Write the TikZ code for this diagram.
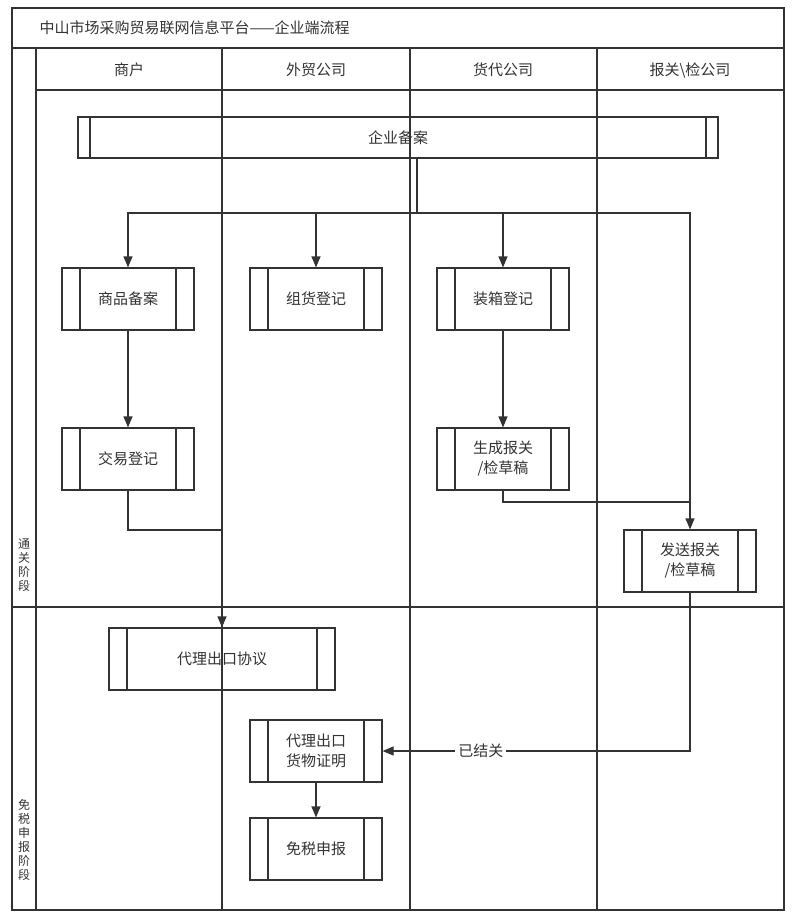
\documentclass[tikz,border=0pt]{standalone}
\usepackage{fontspec}
\setmainfont{Noto Sans CJK SC}
\usetikzlibrary{arrows.meta,calc}
\tikzset{
    proc/.style={draw, line width=1.2pt, minimum width=132pt, minimum height=62pt,
        align=center, font=\fontsize{15}{20}\selectfont, inner sep=0pt,
        path picture={
            \draw[line width=1.2pt] ([xshift=#1]path picture bounding box.north west) -- ([xshift=#1]path picture bounding box.south west);
            \draw[line width=1.2pt] ([xshift=-#1]path picture bounding box.north east) -- ([xshift=-#1]path picture bounding box.south east);
        }},
    proc/.default=18pt,
    flow/.style={line width=1.2pt, -{Triangle[length=11pt,width=9pt]}},
    lane/.style={line width=1.2pt},
}
\begin{document}
\begin{tikzpicture}[x=1pt,y=-1pt, color=black!80]
        \useasboundingbox[fill=white] (0,0) rectangle (800,919);

        % frame and lanes
        \draw[lane] (12,8) rectangle (784,910);
        \draw[lane] (12,48) -- (784,48);
        \draw[lane] (36,48) -- (36,910);
        \draw[lane] (36,90) -- (784,90);
        \draw[lane] (12,607) -- (784,607);
        \draw[lane] (222,48) -- (222,910);
        \draw[lane] (410,48) -- (410,910);
        \draw[lane] (597,48) -- (597,910);

        \node[anchor=west, font=\fontsize{15}{18}\selectfont] (title) at (36,28) {中山市场采购贸易联网信息平台——企业端流程};
        \node[font=\fontsize{15}{18}\selectfont] (h1) at (129,70) {商户};
        \node[font=\fontsize{15}{18}\selectfont] (h2) at (316,70) {外贸公司};
        \node[font=\fontsize{15}{18}\selectfont] (h3) at (503,70) {货代公司};
        \node[font=\fontsize{15}{18}\selectfont] (h4) at (690,70) {报关\textbackslash 检公司};

        \node[font=\fontsize{12}{14}\selectfont, align=center, inner sep=0pt] (ph1) at (24,565) {通\\关\\阶\\段};
        \node[font=\fontsize{12}{14}\selectfont, align=center, inner sep=0pt] (ph2) at (24,840) {免\\税\\申\\报\\阶\\段};

        % boxes
        \node[proc=12pt, minimum width=640pt, minimum height=41pt] (beian) at (398,137.5) {企业备案};
        \node[proc] (spba) at (128,299) {商品备案};
        \node[proc] (zhdj) at (316,299) {组货登记};
        \node[proc] (zxdj) at (503,299) {装箱登记};
        \node[proc] (jydj) at (128,459) {交易登记};
        \node[proc] (scbg) at (503,459) {生成报关\\/检草稿};
        \node[proc] (fsbg) at (690,561) {发送报关\\/检草稿};
        \node[proc, minimum width=226pt] (dlxy) at (222,659) {代理出口协议};
        \node[proc] (dlzm) at (316,751) {代理出口\\货物证明};
        \node[proc] (mssb) at (316,849) {免税申报};

        % connectors
        \coordinate (hub) at (417,213);
        \coordinate (join) at (128,530);
        \coordinate (merge) at (690,502);
        \draw[lane] (beian.south -| hub) -- (hub);
        \draw[flow] (hub) -| (spba.north);
        \draw[flow] (hub) -| (fsbg.north);
        \draw[flow] (hub -| zhdj) -- (zhdj.north);
        \draw[flow] (hub -| zxdj) -- (zxdj.north);
        \draw[flow] (spba) -- (jydj);
        \draw[flow] (zxdj) -- (scbg);
        \draw[lane] (scbg.south) |- (merge);
        \draw[flow] (beian.south -| dlxy) -- (dlxy.north);
        \draw[lane] (jydj.south) -- (join) -- (join -| dlxy);
        \draw[flow] (fsbg.south) |- node[pos=0.84, fill=white, font=\fontsize{15}{18}\selectfont, inner sep=3pt] {已结关} (dlzm.east);
        \draw[flow] (dlzm) -- (mssb);

    \end{tikzpicture}
\end{document}
